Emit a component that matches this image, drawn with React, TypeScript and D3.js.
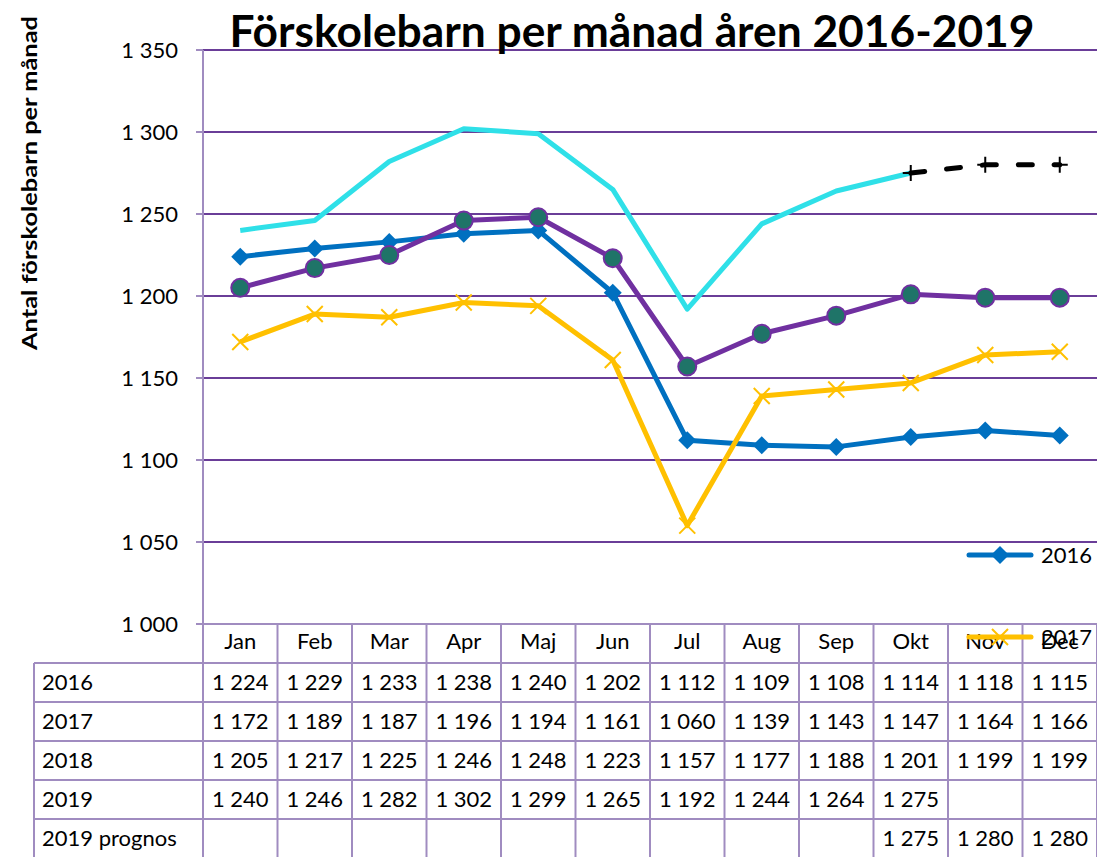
import React from "react";
import * as d3 from "d3";

const months = ["Jan", "Feb", "Mar", "Apr", "Maj", "Jun", "Jul", "Aug", "Sep", "Okt", "Nov", "Dec"];
const v2016 = [1224, 1229, 1233, 1238, 1240, 1202, 1112, 1109, 1108, 1114, 1118, 1115];
const v2017 = [1172, 1189, 1187, 1196, 1194, 1161, 1060, 1139, 1143, 1147, 1164, 1166];
const v2018 = [1205, 1217, 1225, 1246, 1248, 1223, 1157, 1177, 1188, 1201, 1199, 1199];
const v2019: (number | null)[] = [1240, 1246, 1282, 1302, 1299, 1265, 1192, 1244, 1264, 1275, null, null];
const vPrognos: (number | null)[] = [null, null, null, null, null, null, null, null, null, 1275, 1280, 1280];
const yTicks = [1000, 1050, 1100, 1150, 1200, 1250, 1300, 1350];
const rowLabels = ["2016", "2017", "2018", "2019", "2019 prognos"];

const W = 1097, H = 857;
const plotL = 203, plotR = 1097, plotT = 50, plotB = 624;
const tableL = 34, rowH = 39;
const FONT = "Lato, 'Open Sans', sans-serif";
const gridColor = "#6a3d98";
const borderColor = "#a08cc0";
const FS = 22;

const fmt = (v: number | null) => (v == null ? "" : d3.format(",")(v).replace(",", " "));

export default function App() {
  const x = d3.scaleBand<string>().domain(months).range([plotL, plotR]);
  const y = d3.scaleLinear().domain([1000, 1350]).range([plotB, plotT]);
  const cx = (i: number) => (x(months[i]) as number) + x.bandwidth() / 2;
  const line = d3
    .line<number | null>()
    .defined((d) => d != null)
    .x((_, i) => cx(i))
    .y((d) => y(d as number));

  const diamond = (px: number, py: number, s = 9) =>
    `M${px},${py - s}L${px + s},${py}L${px},${py + s}L${px - s},${py}Z`;
  const cross = (px: number, py: number, s = 8) =>
    `M${px - s},${py - s}L${px + s},${py + s}M${px - s},${py + s}L${px + s},${py - s}`;
  const plus = (px: number, py: number, s = 8) =>
    `M${px - s},${py}L${px + s},${py}M${px},${py - s}L${px},${py + s}`;

  const tableRows = [v2016, v2017, v2018, v2019, vPrognos];

  return (
    <svg width={W} height={H} style={{ position: "absolute", left: 0, top: 0, background: "#fff" }} fontFamily={FONT}>
      {/* grid */}
      {yTicks.slice(1).map((t) => (
        <line key={t} x1={plotL} x2={plotR} y1={y(t)} y2={y(t)} stroke={gridColor} strokeWidth={2} />
      ))}
      {/* y ticks and labels */}
      {yTicks.map((t) => (
        <g key={"t" + t}>
          <line x1={plotL - 7} x2={plotL} y1={y(t)} y2={y(t)} stroke={borderColor} strokeWidth={2} />
          <text x={178} y={y(t)} dy="0.35em" textAnchor="end" fontSize={FS} fill="#000">
            {fmt(t)}
          </text>
        </g>
      ))}
      {/* y axis line */}
      <line x1={plotL} x2={plotL} y1={plotT} y2={H} stroke={borderColor} strokeWidth={2} />

      {/* title */}
      <text x={632} y={47} textAnchor="middle" fontSize={44} fontWeight="bold" fill="#000" textLength={805} lengthAdjust="spacingAndGlyphs">
        Förskolebarn per månad åren 2016-2019
      </text>
      {/* y axis title */}
      <text transform={`translate(37,183) rotate(-90)`} textAnchor="middle" fontSize={20} fontWeight="bold" fill="#000" textLength={334} lengthAdjust="spacingAndGlyphs">
        Antal förskolebarn per månad
      </text>

      {/* table */}
      <g>
        {months.map((m, i) => (
          <text key={m} x={cx(i)} y={plotB + rowH / 2 - 2} dy="0.35em" textAnchor="middle" fontSize={FS}>
            {m}
          </text>
        ))}
        {rowLabels.map((r, ri) => (
          <g key={r}>
            <text x={tableL + 8} y={plotB + rowH * (ri + 1) + rowH / 2} dy="0.35em" fontSize={FS}>
              {r}
            </text>
            {tableRows[ri].map((v, i) => (
              <text key={i} x={cx(i)} y={plotB + rowH * (ri + 1) + rowH / 2} dy="0.35em" textAnchor="middle" fontSize={FS}>
                {fmt(v)}
              </text>
            ))}
          </g>
        ))}
        {/* horizontal table lines */}
        <line x1={plotL} x2={plotR} y1={plotB} y2={plotB} stroke={borderColor} strokeWidth={2} />
        {[1, 2, 3, 4, 5].map((k) => (
          <line key={"h" + k} x1={tableL} x2={plotR} y1={plotB + rowH * k} y2={plotB + rowH * k} stroke={borderColor} strokeWidth={2} />
        ))}
        <line x1={tableL} x2={tableL} y1={plotB + rowH} y2={H} stroke={borderColor} strokeWidth={2} />
        {months.map((m, i) => (
          <line key={"v" + m} x1={(x(m) as number) + x.bandwidth()} x2={(x(m) as number) + x.bandwidth()} y1={plotB} y2={H} stroke={borderColor} strokeWidth={2} />
        ))}
      </g>

      {/* series */}
      <path d={line(v2019) || ""} fill="none" stroke="#2fe0e8" strokeWidth={5} strokeLinejoin="round" />
      <path d={line(v2016) || ""} fill="none" stroke="#0070c0" strokeWidth={5} strokeLinejoin="round" />
      {v2016.map((v, i) => (
        <path key={"d" + i} d={diamond(cx(i), y(v))} fill="#0070c0" />
      ))}
      <path d={line(v2017) || ""} fill="none" stroke="#ffc000" strokeWidth={5} strokeLinejoin="round" />
      {v2017.map((v, i) => (
        <path key={"x" + i} d={cross(cx(i), y(v))} stroke="#ffc000" strokeWidth={2} />
      ))}
      <path d={line(v2018) || ""} fill="none" stroke="#7030a0" strokeWidth={5} strokeLinejoin="round" />
      {v2018.map((v, i) => (
        <circle key={"c" + i} cx={cx(i)} cy={y(v)} r={9} fill="#1f7468" stroke="#7030a0" strokeWidth={2} />
      ))}
      <path d={line(vPrognos) || ""} fill="none" stroke="#000" strokeWidth={5} strokeDasharray="14 22" strokeLinecap="round" />
      {vPrognos.map((v, i) =>
        v == null ? null : <path key={"p" + i} d={plus(cx(i), y(v))} stroke="#000" strokeWidth={2} />
      )}

      {/* legend (partially visible) */}
      <g>
        <line x1={969} x2={1031} y1={555} y2={555} stroke="#0070c0" strokeWidth={5} strokeLinecap="round" />
        <path d={diamond(1000, 555)} fill="#0070c0" />
        <text x={1041} y={555} dy="0.35em" fontSize={FS}>2016</text>
        <line x1={969} x2={1031} y1={637} y2={637} stroke="#ffc000" strokeWidth={5} strokeLinecap="round" />
        <path d={cross(1000, 637)} stroke="#ffc000" strokeWidth={2} />
        <text x={1041} y={637} dy="0.35em" fontSize={FS}>2017</text>
      </g>
    </svg>
  );
}
